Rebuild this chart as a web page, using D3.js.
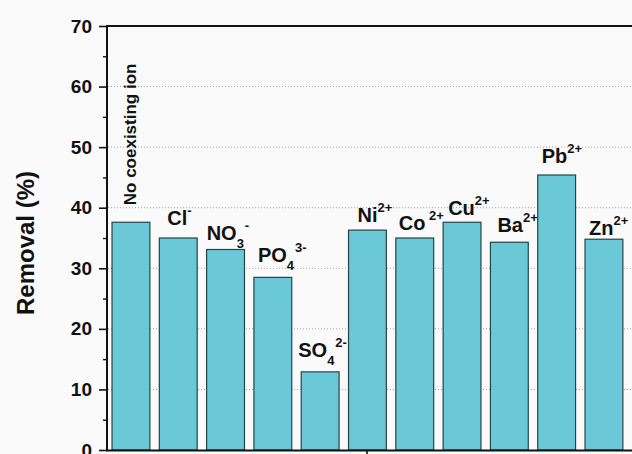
<!DOCTYPE html>
<html>
<head>
<meta charset="utf-8">
<script src="https://cdn.jsdelivr.net/npm/d3@7"></script>
<style>
  html, body { margin: 0; padding: 0; background: #fafafa; }
  svg { display: block; font-family: "Liberation Sans", Arial, sans-serif; font-weight: bold; }
</style>
</head>
<body>
<div id="chart"></div>
<script>
// data
var categories = ["none", "Cl", "NO3", "PO4", "SO4", "Ni", "Co", "Cu", "Ba", "Pb", "Zn"];
var removal    = [37.6, 35.0, 33.1, 28.5, 12.9, 36.3, 35.0, 37.6, 34.3, 45.4, 34.8];
var labelBase  = ["", "Cl", "NO", "PO", "SO", "Ni", "Co", "Cu", "Ba", "Pb", "Zn"];
var labelSub   = ["", "", "3", "4", "4", "", "", "", "", "", ""];
var labelSup   = ["", "-", "-", "3-", "2-", "2+", " 2+", "2+", "2+", "2+", "2+"];
var yTicks      = [0, 10, 20, 30, 40, 50, 60, 70];
var yMinorTicks = [5, 15, 25, 35, 45, 55, 65];

// small nudges so the labels sit where they do in the figure [dx from bar start, gap above bar]
var labelNudge = [[0, 0], [8, 13], [0, 10], [4, 15], [-3, 15], [9, 8], [3, 8], [5, 7], [7, 10], [4, 12], [4, 4]];

var W = 632, H = 454;
var svg = d3.select("#chart").append("svg")
    .attr("width", W)
    .attr("height", H);

var y = d3.scaleLinear().domain([0, 70]).range([450, 26]);
var x = d3.scaleBand()
    .domain(categories)
    .range([107.3, 627.6])
    .paddingInner(0.2)
    .paddingOuter(0.1);

// dotted grid
svg.append("g")
  .selectAll("line")
  .data(yTicks.filter(function(d) { return d > 0 && d < 70; }))
  .enter()
  .append("line")
    .attr("x1", 108).attr("x2", W)
    .attr("y1", function(d) { return y(d); })
    .attr("y2", function(d) { return y(d); })
    .attr("stroke", "#a0a0a0")
    .attr("stroke-width", 1)
    .attr("stroke-dasharray", "1,2");

// bars
svg.append("g")
  .selectAll("rect")
  .data(categories)
  .enter()
  .append("rect")
    .attr("x", function(d) { return x(d); })
    .attr("y", function(d, i) { return y(removal[i]); })
    .attr("width", x.bandwidth())
    .attr("height", function(d, i) { return y(0) - y(removal[i]); })
    .attr("fill", "#6bc9d7")
    .attr("stroke", "#244447")
    .attr("stroke-width", 1.2);

// y axis
var yAxis = svg.append("g")
    .attr("transform", "translate(107,0)")
    .call(d3.axisLeft(y).tickValues(yTicks).tickSize(8).tickPadding(7));
yAxis.select(".domain").remove();
yAxis.selectAll("line").attr("stroke", "#111").attr("stroke-width", 1.6);
yAxis.selectAll("text")
    .attr("fill", "#111")
    .style("font-size", "19px")
    .style("font-weight", "bold")
    .style("font-family", "'Liberation Sans', Arial, sans-serif");

var yMinor = svg.append("g")
    .attr("transform", "translate(107,0)")
    .call(d3.axisLeft(y).tickValues(yMinorTicks).tickSize(4).tickFormat(""));
yMinor.select(".domain").remove();
yMinor.selectAll("line").attr("stroke", "#111").attr("stroke-width", 1.4);

// frame lines
svg.append("line")
    .attr("x1", 107).attr("x2", 107)
    .attr("y1", y(70) - 1).attr("y2", y(0) + 1)
    .attr("stroke", "#111").attr("stroke-width", 2);
svg.append("line")
    .attr("x1", 106).attr("x2", W)
    .attr("y1", y(70)).attr("y2", y(70))
    .attr("stroke", "#111").attr("stroke-width", 1.8);
svg.append("line")
    .attr("x1", 106).attr("x2", W)
    .attr("y1", y(0) + 0.5).attr("y2", y(0) + 0.5)
    .attr("stroke", "#111").attr("stroke-width", 2);
// single x tick in the middle
svg.append("line")
    .attr("x1", 367).attr("x2", 367)
    .attr("y1", y(0)).attr("y2", y(0) + 8)
    .attr("stroke", "#111").attr("stroke-width", 1.6);

// y axis title
svg.append("text")
    .attr("transform", "translate(34,243) rotate(-90)")
    .attr("text-anchor", "middle")
    .attr("fill", "#111")
    .style("font-size", "24px")
    .text("Removal (%)");

// rotated label above the first bar
svg.append("text")
    .attr("transform", "translate(" + (x(categories[0]) + 24) + "," + (y(removal[0]) - 17) + ") rotate(-90)")
    .attr("fill", "#111")
    .style("font-size", "17px")
    .text("No coexisting ion");

// ion labels with sub/superscripts
categories.forEach(function(c, i) {
  if (!labelBase[i]) return;
  var t = svg.append("text")
      .attr("x", x(c) + labelNudge[i][0])
      .attr("y", y(removal[i]) - labelNudge[i][1])
      .attr("fill", "#111")
      .style("font-size", "20px");
  t.append("tspan").text(labelBase[i]);
  var shift = 0;
  if (labelSub[i]) {
    t.append("tspan").attr("dy", 8).style("font-size", "13px").text(labelSub[i]);
    shift = 8;
  }
  if (labelSup[i]) {
    t.append("tspan")
      .attr("dx", labelSub[i] ? 1 : 0)
      .attr("dy", -(shift + 10))
      .style("font-size", "13px")
      .attr("xml:space", "preserve")
      .style("white-space", "pre")
      .text(labelSup[i]);
  }
});
</script>
</body>
</html>
